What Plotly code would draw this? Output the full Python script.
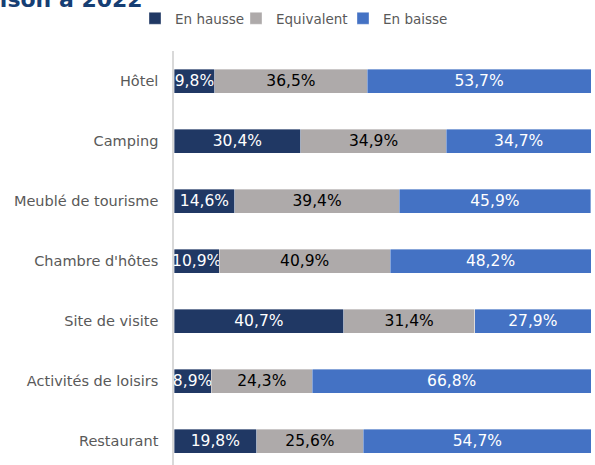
import plotly.graph_objects as go

categories = ["Hôtel", "Camping", "Meublé de tourisme", "Chambre d'hôtes",
              "Site de visite", "Activités de loisirs", "Restaurant"]
en_hausse = [9.8, 30.4, 14.6, 10.9, 40.7, 8.9, 19.8]
equivalent = [36.5, 34.9, 39.4, 40.9, 31.4, 24.3, 25.6]
en_baisse = [53.7, 34.7, 45.9, 48.2, 27.9, 66.8, 54.7]
series_names = ["En hausse", "Equivalent", "En baisse"]
colors = ["#203864", "#AEAAAA", "#4472C4"]
text_colors = ["#FFFFFF", "#000000", "#FFFFFF"]
title_text = "Fréquentation en comparaison à 2022"

def fmt(v):
    return f"{v:.1f}".replace(".", ",") + "%"

L, T = 174, 51
W, H = 595, 465
pw, ph = W - L - 4, H - T
legend_px = [135, 236, 343]
legend_keys = ["legend", "legend2", "legend3"]

fig = go.Figure()
for name, vals, col, tcol, lk in zip(series_names, [en_hausse, equivalent, en_baisse],
                                     colors, text_colors, legend_keys):
    fig.add_trace(go.Bar(
        y=categories, x=vals, name=name, orientation="h", legend=lk,
        marker=dict(color=col, line=dict(color="rgba(255,255,255,0.6)", width=0.6)),
        text=[fmt(v) for v in vals], textposition="inside", insidetextanchor="middle",
        textangle=0, constraintext="none",
        insidetextfont=dict(family="DejaVu Sans", size=15.5, color=tcol),
        hoverinfo="skip",
    ))

legend_layout = {}
for lk, px in zip(legend_keys, legend_px):
    legend_layout[lk] = dict(orientation="h", x=(px - L) / pw, y=1 + (T - 18.5) / ph,
                             xanchor="left", yanchor="middle",
                             font=dict(size=13.5, color="#595959"), itemwidth=30,
                             bgcolor="rgba(0,0,0,0)")

fig.update_layout(
    width=W, height=H, barmode="stack", bargap=0.6,
    margin=dict(l=L, r=4, t=T, b=0, pad=0, autoexpand=False),
    paper_bgcolor="white", plot_bgcolor="white",
    font=dict(family="DejaVu Sans", size=14, color="#595959"),
    showlegend=True,
    **legend_layout,
    xaxis=dict(range=[0, 100], visible=False, fixedrange=True),
    yaxis=dict(categoryorder="array", categoryarray=categories,
               range=[6.5 + (ph - 7 * 60) / 60, -0.5],
               showline=True, linecolor="#D9D9D9", linewidth=1.5,
               showgrid=False, zeroline=False, ticks="", automargin=False,
               ticklabelstandoff=11, tickfont=dict(size=14.5, color="#595959")),
    annotations=[dict(text=f"<b>{title_text}</b>", xref="paper", yref="paper",
                      x=(145 - L) / pw, y=1 + (T - 14) / ph,
                      xanchor="right", yanchor="bottom", showarrow=False,
                      font=dict(family="DejaVu Sans", size=22, color="#163E73"))],
)

fig.write_html("out.html", config={"displayModeBar": False},
               post_script="document.body.style.margin='0';")
